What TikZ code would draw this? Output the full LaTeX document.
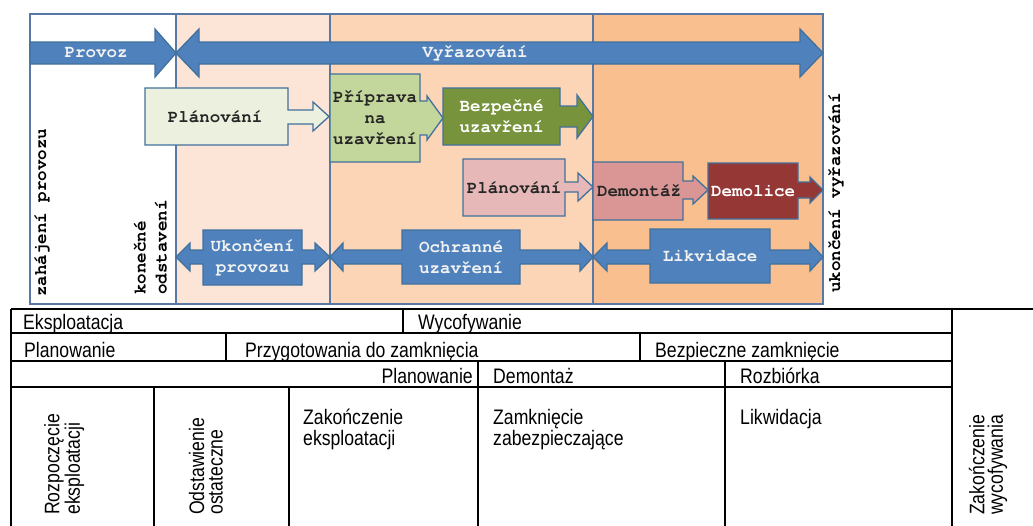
\documentclass[tikz,border=0pt]{standalone}
\usepackage{fontspec}
\setmainfont{Liberation Sans}
\newfontfamily\monob{texgyrecursor-bold}[Extension=.otf]
\newfontfamily\narrowf[FakeStretch=0.84]{Liberation Sans}
\definecolor{arrblue}{HTML}{4F81BD}
\definecolor{boxline}{HTML}{41719C}
\definecolor{framec}{HTML}{5878A6}
\definecolor{ctwo}{HTML}{FCE4D6}
\definecolor{cthree}{HTML}{FBD5B5}
\definecolor{cfour}{HTML}{F9BF8F}
\definecolor{planA}{HTML}{EBF1DE}
\definecolor{prip}{HTML}{C3D69B}
\definecolor{bezp}{HTML}{77933C}
\definecolor{planB}{HTML}{E6B9B8}
\definecolor{demo}{HTML}{D99694}
\definecolor{demol}{HTML}{953735}
\definecolor{lightt}{HTML}{F2F2F2}
\definecolor{darkt}{HTML}{262626}
\tikzset{
  blk/.style={draw=boxline, line width=1.3pt, line join=miter},
  framel/.style={draw=framec, line width=1.5pt},
  mt/.style={font=\monob\fontsize{17.5}{21}\selectfont, inner sep=0pt, text=darkt},
  mtw/.style={mt, text=lightt},
  tt/.style={font=\narrowf\fontsize{21}{21}\selectfont, inner sep=0pt, text=black},
  ttr/.style={tt, font=\narrowf\fontsize{21}{18.5}\selectfont, rotate=90, anchor=south west, align=left},
  tl/.style={line width=2pt, draw=black},
}
\begin{document}
\begin{tikzpicture}[x=1pt,y=-1pt]
\useasboundingbox (0,0) rectangle (1033,525);
% ---------- columns of the upper chart
\fill[white] (30,14) rectangle (176,304);
\fill[ctwo] (176,14) rectangle (330,304);
\fill[cthree] (330,14) rectangle (593,304);
\fill[cfour] (593,14) rectangle (823,304);
\draw[framel] (30,14) rectangle (823,304);
\draw[framel] (176,14) -- (176,304);
\draw[framel] (330,14) -- (330,304);
\draw[framel] (593,14) -- (593,304);
% ---------- top arrows
\draw[blk, fill=arrblue] (30,42) -- (155,42) -- (155,29) -- (176,53) -- (155,77) -- (155,64) -- (30,64) -- cycle;
\draw[blk, fill=arrblue] (176,53) -- (199,29) -- (199,42) -- (800,42) -- (800,29) -- (823,53) -- (800,77) -- (800,64) -- (199,64) -- (199,77) -- cycle;
\node[mtw] (provoz) at (96,53) {Provoz};
\node[mtw] (vyraz) at (475,53) {Vyřazování};
% ---------- boxes with arrows
\draw[blk, fill=planA] (145,88) -- (288,88) -- (288,110) -- (313,110) -- (313,102) -- (329,116.5) -- (313,131) -- (313,124) -- (288,124) -- (288,145) -- (145,145) -- cycle;
\node[mt] (plan1) at (215,116.5) {Plánování};
\draw[blk, fill=prip] (330,74) -- (420,74) -- (420,101) -- (427,101) -- (427,96) -- (443,118) -- (427,140) -- (427,135) -- (420,135) -- (420,162) -- (330,162) -- cycle;
\node[mt, align=center] (prip) at (375,118) {Příprava\\na\\uzavření};
\draw[blk, fill=bezp] (443,88) -- (560,88) -- (560,106) -- (577,106) -- (577,95) -- (593,116.5) -- (577,138) -- (577,127) -- (560,127) -- (560,145) -- (443,145) -- cycle;
\node[mtw, text=white, align=center] (bezp) at (501.5,116.5) {Bezpečné\\uzavření};
\draw[blk, fill=planB] (463,159) -- (565,159) -- (565,182) -- (578,182) -- (578,173) -- (593,187) -- (578,201) -- (578,192) -- (565,192) -- (565,216) -- (463,216) -- cycle;
\node[mt] (plan2) at (514,187.5) {Plánování};
\draw[blk, fill=demo] (593,162) -- (683,162) -- (683,181) -- (693,181) -- (693,176) -- (708,190) -- (693,204) -- (693,199) -- (683,199) -- (683,220) -- (593,220) -- cycle;
\node[mt] (demont) at (639,191) {Demontáž};
\draw[blk, fill=demol] (708,163) -- (798,163) -- (798,182) -- (810,182) -- (810,177) -- (823,190) -- (810,203) -- (810,198) -- (798,198) -- (798,219) -- (708,219) -- cycle;
\node[mtw, text=white] (demol) at (753,191) {Demolice};
% ---------- bottom double arrows
\draw[blk, fill=arrblue] (176,257) -- (190,243) -- (190,250) -- (203,250) -- (203,230) -- (302,230) -- (302,250) -- (315,250) -- (315,243) -- (330,257) -- (315,271) -- (315,264) -- (302,264) -- (302,285) -- (203,285) -- (203,264) -- (190,264) -- (190,271) -- cycle;
\node[mtw, align=center] (ukprov) at (252.5,257.5) {Ukončení\\provozu};
\draw[blk, fill=arrblue] (330,257) -- (343,243) -- (343,250) -- (402,250) -- (402,230) -- (520,230) -- (520,250) -- (580,250) -- (580,243) -- (593,257) -- (580,271) -- (580,264) -- (520,264) -- (520,284) -- (402,284) -- (402,264) -- (343,264) -- (343,271) -- cycle;
\node[mtw, align=center] (ochr) at (461,257) {Ochranné\\uzavření};
\draw[blk, fill=arrblue] (593,257) -- (607,243) -- (607,250) -- (650,250) -- (650,229) -- (770,229) -- (770,250) -- (810,250) -- (810,243) -- (823,257) -- (810,271) -- (810,264) -- (770,264) -- (770,283) -- (650,283) -- (650,264) -- (607,264) -- (607,271) -- cycle;
\node[mtw] (likv) at (710,256) {Likvidace};
% ---------- vertical labels
\node[mt, text=black, rotate=90, anchor=base west] (zahaj) at (46,297) {zahájení provozu};
\node[mt, text=black, rotate=90, anchor=south west, align=left] (konec) at (167,295) {konečné\\odstavení};
\node[mt, text=black, rotate=90, anchor=base west] (ukvyr) at (840,293) {ukončení vyřazování};
% ---------- table
\draw[tl] (11,308.5) -- (1033,308.5);
\draw[tl] (11,308.5) -- (11,526);
\draw[tl] (11,333) -- (952,333);
\draw[tl] (11,361) -- (952,361);
\draw[tl] (11,387) -- (952,387);
\draw[tl] (952,308.5) -- (952,526);
\draw[tl] (403,308.5) -- (403,333);
\draw[tl] (226,333) -- (226,361);
\draw[tl] (639.5,333) -- (639.5,361);
\draw[tl] (478,361) -- (478,526);
\draw[tl] (724.5,361) -- (724.5,526);
\draw[tl] (154,387) -- (154,526);
\draw[tl] (289,387) -- (289,526);
\node[tt, anchor=base west] (eksp) at (23,329) {Eksploatacja};
\node[tt, anchor=base west] (wyco) at (418,329) {Wycofywanie};
\node[tt, anchor=base west] (planw) at (24,357) {Planowanie};
\node[tt, anchor=base west] (przyg) at (245,357) {Przygotowania do zamknięcia};
\node[tt, anchor=base west] (bezz) at (655,357) {Bezpieczne zamknięcie};
\node[tt, anchor=base east] (planw2) at (473,383) {Planowanie};
\node[tt, anchor=base west] (demz) at (493,383) {Demontaż};
\node[tt, anchor=base west] (rozb) at (740,383) {Rozbiórka};
\node[tt, anchor=base west, align=left] (zakek) at (303,445) {Zakończenie\\eksploatacji};
\node[tt, anchor=base west, align=left] (zamz) at (493,445) {Zamknięcie\\zabezpieczające};
\node[tt, anchor=base west] (likw) at (740,424) {Likwidacja};
\node[ttr] (rozp) at (84.5,515) {Rozpoczęcie\\eksploatacji};
\node[ttr] (odst) at (223,515) {Odstawienie\\ostateczne};
\node[ttr] (zakw) at (1007.5,515) {Zakończenie\\wycofywania};
\end{tikzpicture}
\end{document}
